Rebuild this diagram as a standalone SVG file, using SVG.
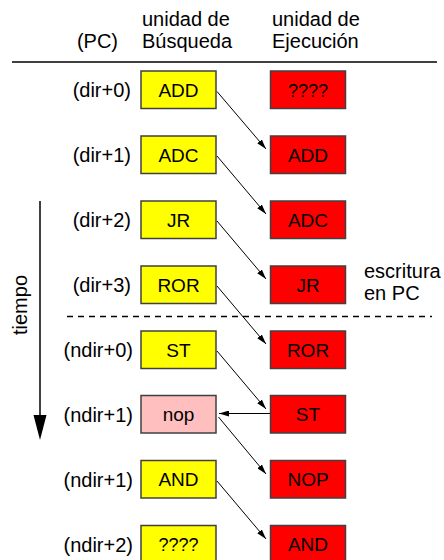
<svg xmlns="http://www.w3.org/2000/svg" width="444" height="560" viewBox="0 0 444 560">
<style>
text{font-family:"Liberation Sans",Arial,sans-serif;font-size:20px;fill:#000}
.lbl{text-anchor:end}
.bx{font-size:19px;text-anchor:middle}
.q{font-size:18px}
.f{fill:#ffff00;stroke:#404040;stroke-width:1.5}
.e{fill:#ff0000;stroke:#404040;stroke-width:1.5}
.n{fill:#ffbfbf;stroke:#404040;stroke-width:1.5}
.c{stroke:#000;stroke-width:1;fill:none;marker-end:url(#ah)}
</style>
<defs>
<marker id="ah" viewBox="0 0 10 6" refX="10" refY="3" markerWidth="10" markerHeight="6" markerUnits="userSpaceOnUse" orient="auto">
<path d="M0,0 L10,3 L0,6 Z" fill="#000"/>
</marker>
</defs>
<g id="header">
<text x="118" y="48" class="lbl">(PC)</text>
<text x="142" y="26">unidad de</text>
<text x="142" y="48">Búsqueda</text>
<text x="272" y="26">unidad de</text>
<text x="272" y="48">Ejecución</text>
<line x1="12" y1="62" x2="437" y2="62" stroke="#000" stroke-width="1.7"/>
</g>
<g id="time">
<line x1="40" y1="201" x2="40" y2="416" stroke="#000" stroke-width="1.5"/>
<path d="M33.5,415 L46.5,415 L40,440 Z" fill="#000"/>
<text transform="translate(27,305) rotate(-90)" text-anchor="middle">tiempo</text>
</g>
<g id="pcwrite">
<line x1="67" y1="316.5" x2="432" y2="316.5" stroke="#000" stroke-width="1.5" stroke-dasharray="6,5"/>
<text x="364" y="278">escritura</text>
<text x="364" y="300">en PC</text>
</g>
<g id="row1"><text x="131" y="97" class="lbl">(dir+0)</text><rect class="f" x="141" y="71" width="75" height="37.5"/><text x="178.5" y="96.5" class="bx">ADD</text><rect class="e" x="270.5" y="71" width="75" height="37.5"/><text x="308" y="96.5" class="bx q">????</text></g>
<g id="row2"><text x="131" y="162" class="lbl">(dir+1)</text><rect class="f" x="141" y="136" width="75" height="37.5"/><text x="178.5" y="161.5" class="bx">ADC</text><rect class="e" x="270.5" y="136" width="75" height="37.5"/><text x="308" y="161.5" class="bx">ADD</text></g>
<g id="row3"><text x="131" y="227" class="lbl">(dir+2)</text><rect class="f" x="141" y="201" width="75" height="37.5"/><text x="178.5" y="226.5" class="bx">JR</text><rect class="e" x="270.5" y="201" width="75" height="37.5"/><text x="308" y="226.5" class="bx">ADC</text></g>
<g id="row4"><text x="131" y="292" class="lbl">(dir+3)</text><rect class="f" x="141" y="266" width="75" height="37.5"/><text x="178.5" y="291.5" class="bx">ROR</text><rect class="e" x="270.5" y="266" width="75" height="37.5"/><text x="308" y="291.5" class="bx">JR</text></g>
<g id="row5"><text x="133" y="357" class="lbl">(ndir+0)</text><rect class="f" x="141" y="331" width="75" height="37.5"/><text x="178.5" y="356.5" class="bx">ST</text><rect class="e" x="270.5" y="331" width="75" height="37.5"/><text x="308" y="356.5" class="bx">ROR</text></g>
<g id="row6"><text x="133" y="422" class="lbl">(ndir+1)</text><rect class="n" x="141" y="395.5" width="75" height="37.5"/><text x="178.5" y="421" class="bx">nop</text><rect class="e" x="270.5" y="395.5" width="75" height="37.5"/><text x="308" y="421" class="bx">ST</text></g>
<g id="row7"><text x="133" y="487" class="lbl">(ndir+1)</text><rect class="f" x="141" y="460.5" width="75" height="37.5"/><text x="178.5" y="486" class="bx">AND</text><rect class="e" x="270.5" y="460.5" width="75" height="37.5"/><text x="308" y="486" class="bx">NOP</text></g>
<g id="row8"><text x="133" y="552" class="lbl">(ndir+2)</text><rect class="f" x="141" y="525.5" width="75" height="37.5"/><text x="178.5" y="551" class="bx q">????</text><rect class="e" x="270.5" y="525.5" width="75" height="37.5"/><text x="308" y="551" class="bx">AND</text></g>
<g id="connectors">
<line class="c" x1="217" y1="91.5" x2="266" y2="149"/>
<line class="c" x1="217" y1="156" x2="266" y2="214"/>
<line class="c" x1="217" y1="221" x2="266" y2="279"/>
<line class="c" x1="217" y1="286" x2="266" y2="344"/>
<line class="c" x1="217" y1="351" x2="266" y2="409"/>
<line class="c" x1="270" y1="413.5" x2="219" y2="413.5"/>
<line class="c" x1="218.5" y1="417" x2="266" y2="474"/>
<line class="c" x1="217" y1="481" x2="266" y2="539"/>
</g>
</svg>
